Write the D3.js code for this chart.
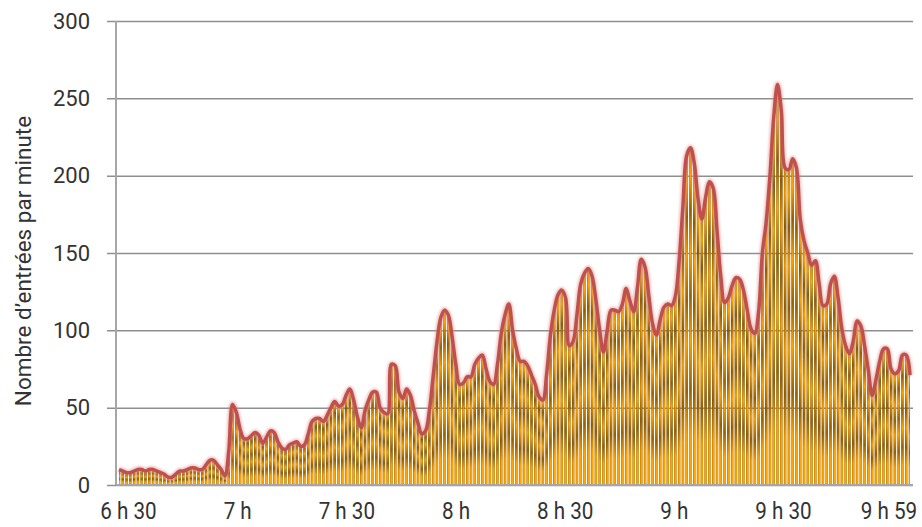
<!DOCTYPE html>
<html>
<head>
<meta charset="utf-8">
<script src="https://cdn.jsdelivr.net/npm/d3@7"></script>
<style>
body { margin: 0; background: #fff; }
text { font-family: Roboto, 'Noto Sans', sans-serif; fill: #333; }
</style>
</head>
<body>
<svg id="chart" width="922" height="527"></svg>
<script>
// DATA - entries per minute, 6 h 30 to 9 h 59
var entries = [
	10, 9, 8, 8, 9, 10, 10, 9, 10, 10,
	9, 8, 7, 5, 5, 7, 9, 9, 10, 11,
	11, 10, 10, 13, 16, 16, 13, 10, 6, 22,
	52, 47, 36, 30, 30, 32, 34, 32, 27, 31,
	35, 34, 28, 24, 23, 26, 27, 28, 25, 26,
	33, 41, 43, 43, 41, 45, 50, 54, 51, 52,
	58, 62, 55, 44, 37, 48, 55, 60, 60, 50,
	47, 46, 78, 77, 60, 56, 62, 58, 48, 40,
	33, 35, 48, 70, 92, 108, 113, 110, 96, 78,
	65, 66, 70, 70, 78, 82, 84, 75, 67, 65,
	78, 98, 110, 117, 100, 88, 80, 80, 77, 71,
	65, 57, 55, 72, 97, 113, 123, 126, 121, 90,
	93, 110, 130, 137, 140, 135, 120, 100, 86, 100,
	113, 113, 112, 117, 127, 119, 112, 128, 146, 141,
	122, 104, 97, 107, 115, 117, 116, 122, 145, 180,
	213, 218, 208, 185, 172, 186, 196, 192, 165, 135,
	118, 121, 129, 134, 133, 126, 113, 101, 98, 112,
	150, 170, 200, 238, 259, 242, 205, 204, 211, 205,
	172, 158, 150, 142, 145, 130, 116, 117, 130, 135,
	121, 101, 90, 85, 93, 106, 103, 90, 74, 58,
	68, 80, 88, 88, 75, 72, 74, 84, 84, 71
];
var tickIndex = [0, 30, 60, 90, 120, 150, 180, 209];
var tickLabels = ['6 h 30', '7 h', '7 h 30', '8 h', '8 h 30', '9 h', '9 h 30', '9 h 59'];
var yTicks = [0, 50, 100, 150, 200, 250, 300];
var yTitle = 'Nombre d’entrées par minute';

// BOUNDS
var plot = {left: 116, right: 913, top: 21, bottom: 485};

// SCALES
var xScale = d3.scaleLinear().domain([0, entries.length - 1]).range([119, 910]);
var yScale = d3.scaleLinear().domain([0, 300]).range([plot.bottom, plot.top]);
// category labels sit a little inside the data span
var labelScale = d3.scaleLinear().domain([0, entries.length - 1]).range([128.5, 889]);

var svg = d3.select('#chart');
var defs = svg.append('defs');

// vertical bands inside each bar (follow the bar height, like the original fill)
var bands = defs.append('linearGradient')
	.attr('id', 'bandGrad')
	.attr('x1', 0).attr('x2', 0).attr('y1', 0).attr('y2', 1);
[[0, '#c98300'], [0.1, '#ffa600'], [0.2, '#8f5e08'], [0.32, '#ffa300'],
 [0.45, '#94620a'], [0.58, '#ffa400'], [0.72, '#946208'], [0.85, '#ffa300'],
 [1, '#ffa800']].forEach(function(s) {
	bands.append('stop').attr('offset', s[0]).attr('stop-color', s[1]);
});

// darker edges of each bar
var edge = defs.append('linearGradient')
	.attr('id', 'edgeGrad')
	.attr('x1', 0).attr('x2', 1).attr('y1', 0).attr('y2', 0);
edge.append('stop').attr('offset', 0).attr('stop-color', '#5a3a00').attr('stop-opacity', 0.5);
edge.append('stop').attr('offset', 0.4).attr('stop-color', '#5a3a00').attr('stop-opacity', 0);
edge.append('stop').attr('offset', 0.7).attr('stop-color', '#5a3a00').attr('stop-opacity', 0);
edge.append('stop').attr('offset', 1).attr('stop-color', '#5a3a00').attr('stop-opacity', 0.45);

defs.append('filter').attr('id', 'soft')
	.append('feGaussianBlur').attr('stdDeviation', 0.8);

// GRIDLINES + Y TICKS
var yAxis = d3.axisLeft(yScale)
	.tickValues(yTicks)
	.tickSize(-(plot.right - 107))
	.tickPadding(17);

var gy = svg.append('g')
	.attr('transform', 'translate(107,0)')
	.call(yAxis);
gy.select('.domain').remove();
gy.selectAll('line').attr('stroke', '#8f8f8f').attr('stroke-width', 1.5);
gy.selectAll('text')
	.attr('fill', '#333')
	.style('font-size', '22px');

// AREA (used as clip for the bars)
var area = d3.area()
	.x(function(d, i) { return xScale(i); })
	.y0(plot.bottom)
	.y1(function(d) { return yScale(d); })
	.curve(d3.curveCatmullRom);

defs.append('clipPath').attr('id', 'areaClip')
	.append('path').attr('d', area(entries));

var step = xScale(1) - xScale(0);
var bars = svg.append('g').attr('clip-path', 'url(#areaClip)');

bars.selectAll('rect.band')
	.data(entries)
	.enter().append('rect')
	.attr('class', 'band')
	.attr('x', function(d, i) { return xScale(i) - step / 2 + 0.65; })
	.attr('y', function(d) { return yScale(d) - 6; })
	.attr('width', step - 1.3)
	.attr('height', function(d) { return plot.bottom - yScale(d) + 6; })
	.attr('fill', 'url(#bandGrad)');

bars.selectAll('rect.edge')
	.data(entries)
	.enter().append('rect')
	.attr('class', 'edge')
	.attr('x', function(d, i) { return xScale(i) - step / 2 + 0.65; })
	.attr('y', function(d) { return yScale(d) - 6; })
	.attr('width', step - 1.3)
	.attr('height', function(d) { return plot.bottom - yScale(d) + 6; })
	.attr('fill', 'url(#edgeGrad)');

// Y AXIS LINE
svg.append('line')
	.attr('x1', plot.left).attr('x2', plot.left)
	.attr('y1', yScale(300)).attr('y2', yScale(0))
	.attr('stroke', '#a6a6a6').attr('stroke-width', 2);

// X AXIS LINE
svg.append('line')
	.attr('x1', plot.left).attr('x2', plot.right)
	.attr('y1', yScale(0)).attr('y2', yScale(0))
	.attr('stroke', '#a6a6a6').attr('stroke-width', 2);

// LINE
var line = d3.line()
	.x(function(d, i) { return xScale(i); })
	.y(function(d) { return yScale(d); })
	.curve(d3.curveCatmullRom);

svg.append('path')
	.attr('d', line(entries))
	.attr('fill', 'none')
	.attr('stroke', '#d9908a')
	.attr('stroke-width', 6.5)
	.attr('stroke-opacity', 0.5)
	.attr('stroke-linejoin', 'round')
	.attr('filter', 'url(#soft)');

svg.append('path')
	.attr('d', line(entries))
	.attr('fill', 'none')
	.attr('stroke', '#c0504d')
	.attr('stroke-width', 3.5)
	.attr('stroke-linejoin', 'round');

// X LABELS
svg.append('g')
	.selectAll('text')
	.data(tickIndex)
	.enter().append('text')
	.attr('transform', function(d) { return 'translate(' + labelScale(d) + ',519) scale(0.86,1)'; })
	.attr('text-anchor', 'middle')
	.style('font-size', '24px')
	.text(function(d, i) { return tickLabels[i]; });

// Y TITLE
svg.append('text')
	.attr('transform', 'translate(31,261) rotate(-90)')
	.attr('text-anchor', 'middle')
	.style('font-size', '22.5px')
	.text(yTitle);
</script>
</body>
</html>
